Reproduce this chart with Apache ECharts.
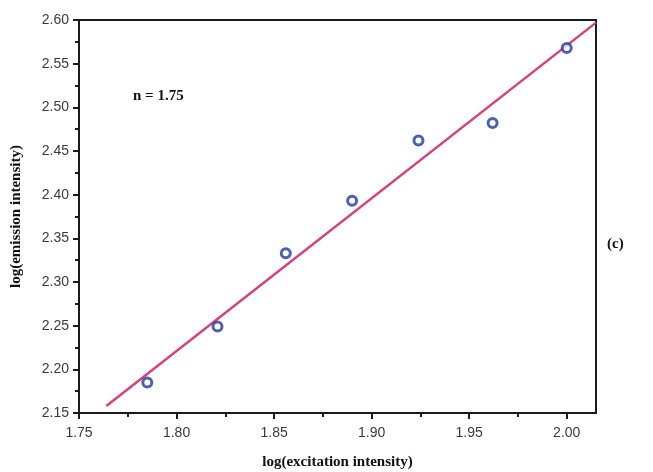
<!DOCTYPE html>
<html>
<head>
<meta charset="utf-8">
<script src="https://cdn.jsdelivr.net/npm/echarts@6/dist/echarts.min.js"></script>
<style>
  html, body { margin: 0; padding: 0; background: #fff; }
  #chart { width: 653px; height: 472px; }
</style>
</head>
<body>
<div id="chart"></div>
<script>
// measured points
const excitation = [1.785, 1.821, 1.856, 1.890, 1.924, 1.962, 2.000];
const emission = [2.185, 2.249, 2.333, 2.393, 2.462, 2.482, 2.568];
// fitted line ends (slope n = 1.75)
const fitX = [1.764, 2.015];
const fitY = [2.158, 2.597];
// ticks
const xMajor = [1.75, 1.80, 1.85, 1.90, 1.95, 2.00];
const xMinor = [1.775, 1.825, 1.875, 1.925, 1.975];
const yMajor = [2.15, 2.20, 2.25, 2.30, 2.35, 2.40, 2.45, 2.50, 2.55, 2.60];
const yMinor = [2.175, 2.225, 2.275, 2.325, 2.375, 2.425, 2.475, 2.525, 2.575];

const chart = echarts.init(document.getElementById("chart"));

const labelStyle = {
  fontFamily: "Liberation Sans",
  fontSize: 14,
  color: "#3a3a3a",
};
const nameStyle = {
  fontFamily: "Liberation Serif",
  fontWeight: "bold",
  fontSize: 15,
  color: "#111",
};
const tickLine = { color: "#1a1a1a", width: 2 };

const option = {
  backgroundColor: "#fff",
  animation: false,
  grid: {
    left: 79,
    right: 57,
    top: 20,
    bottom: 59,
    outerBoundsMode: "none",
    containLabel: false,
    show: true,
    borderColor: "#1a1a1a",
    borderWidth: 2,
  },
  xAxis: [
    {
      type: "value",
      min: 1.75,
      max: 2.015,
      interval: 0.05,
      name: "log(excitation intensity)",
      nameLocation: "middle",
      nameGap: 42,
      nameTextStyle: nameStyle,
      axisLine: { lineStyle: tickLine },
      axisTick: { customValues: xMajor, length: 6, lineStyle: tickLine },
      axisLabel: {
        customValues: xMajor,
        margin: 13,
        ...labelStyle,
        formatter: (v) => v.toFixed(2),
      },
      splitLine: { show: false },
    },
    {
      type: "value",
      min: 1.75,
      max: 2.015,
      position: "bottom",
      axisLine: { show: false },
      axisTick: { customValues: xMinor, length: 4, lineStyle: tickLine },
      axisLabel: { show: false },
      splitLine: { show: false },
    },
  ],
  yAxis: [
    {
      type: "value",
      min: 2.15,
      max: 2.6,
      interval: 0.05,
      name: "log(emission intensity)",
      nameLocation: "middle",
      nameRotate: 90,
      nameGap: 55,
      nameTextStyle: nameStyle,
      axisLine: { show: true, lineStyle: tickLine },
      axisTick: { show: true, customValues: yMajor, length: 6, lineStyle: tickLine },
      axisLabel: {
        customValues: yMajor,
        margin: 10,
        ...labelStyle,
        formatter: (v) => v.toFixed(2),
      },
      splitLine: { show: false },
    },
    {
      type: "value",
      min: 2.15,
      max: 2.6,
      position: "left",
      axisLine: { show: false },
      axisTick: { show: true, customValues: yMinor, length: 4, lineStyle: tickLine },
      axisLabel: { show: false },
      splitLine: { show: false },
    },
  ],
  series: [
    {
      name: "fit",
      type: "line",
      data: fitX.map((x, i) => [x, fitY[i]]),
      showSymbol: false,
      lineStyle: { color: "#d6407c", width: 2.5 },
      z: 2,
    },
    {
      name: "data",
      type: "scatter",
      data: excitation.map((x, i) => [x, emission[i]]),
      symbol: "circle",
      symbolSize: 9,
      itemStyle: { color: "#fff", borderColor: "#23399a", borderWidth: 3 },
      z: 3,
    },
  ],
  graphic: [
    {
      type: "text",
      left: 133,
      top: 89,
      style: {
        text: "n = 1.75",
        font: "bold 15px 'Liberation Serif'",
        fill: "#111",
      },
    },
    {
      type: "text",
      left: 607,
      top: 237,
      style: {
        text: "(c)",
        font: "bold 15px 'Liberation Serif'",
        fill: "#111",
      },
    },
  ],
};

option && chart.setOption(option);
</script>
</body>
</html>
